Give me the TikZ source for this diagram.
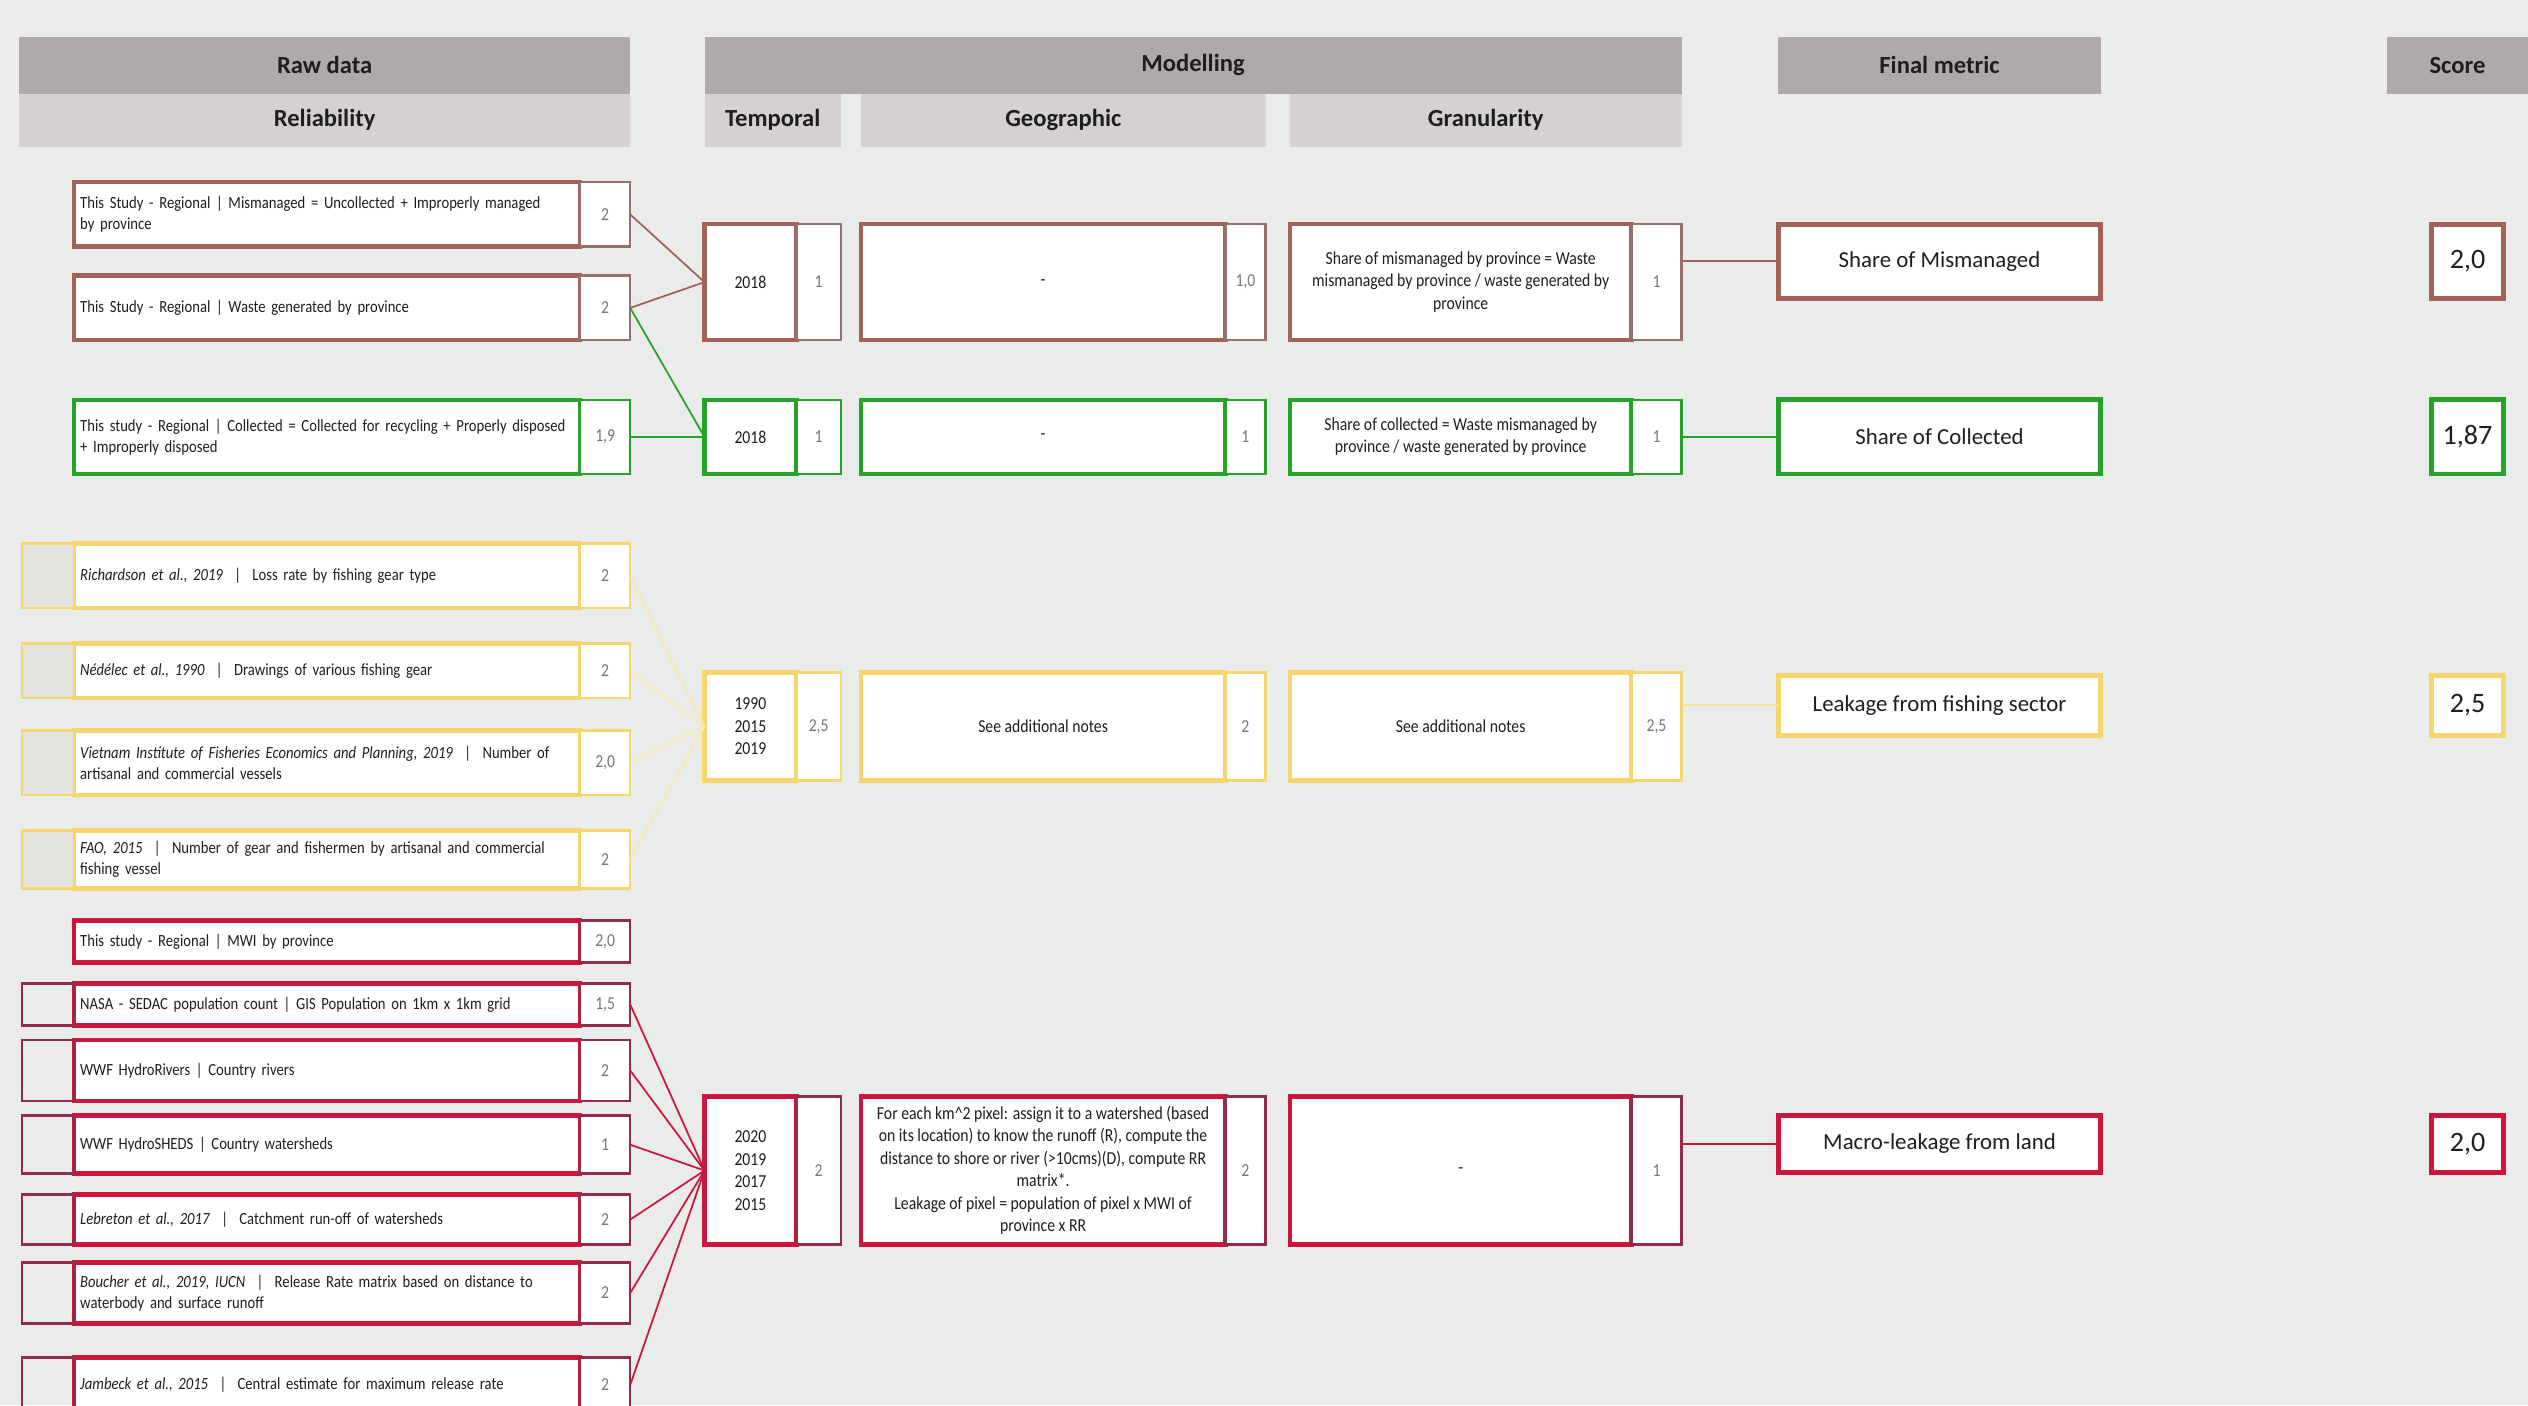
\documentclass[tikz,border=0pt]{standalone}
\usepackage{fontspec}
\setmainfont{Carlito}
\newfontfamily\condf{Carlito}[FakeStretch=0.86]
\usetikzlibrary{positioning}

\definecolor{bgc}{RGB}{233,236,235}
\definecolor{hdark}{RGB}{174,169,170}
\definecolor{hlight}{RGB}{213,209,210}
\definecolor{stubc}{RGB}{226,227,222}
\definecolor{brn}{RGB}{163,98,88}
\definecolor{brnc}{RGB}{150,112,106}
\definecolor{grn}{RGB}{38,162,42}
\definecolor{ylw}{RGB}{246,214,108}
\definecolor{crim}{RGB}{204,22,62}
\definecolor{crimc}{RGB}{146,44,74}
\definecolor{celltxt}{RGB}{118,118,118}
\definecolor{txt}{RGB}{30,30,30}

\begin{document}
\begin{tikzpicture}[
    every node/.style={outer sep=0pt},
    hdr/.style={rectangle, fill=hdark, minimum height=0.564cm, font=\fontsize{7}{8}\selectfont\bfseries, text=txt},
    subhdr/.style={rectangle, fill=hlight, minimum height=0.532cm, font=\fontsize{7}{8}\selectfont\bfseries, text=txt},
    src/.style={rectangle, draw, line width=1.3pt, fill=white, anchor=west, text width=4.94cm, inner xsep=0.6mm, inner ysep=0.3mm, align=left, font=\condf\fontsize{4.85}{6}\selectfont, text=txt},
    stub/.style={rectangle, draw, line width=0.7pt, minimum width=0.52cm, inner sep=0pt},
    cell/.style={rectangle, draw, line width=0.7pt, fill=white, minimum width=0.5cm, inner sep=0pt, font=\condf\fontsize{5.2}{6}\selectfont, text=celltxt},
    mbox/.style={rectangle, draw, line width=1.3pt, fill=white, anchor=west, align=center, inner sep=0.4mm, font=\condf\fontsize{5.2}{6.4}\selectfont, text=txt},
    metric/.style={rectangle, draw, line width=1.4pt, fill=white, anchor=west, minimum width=3.224cm, font=\fontsize{6.5}{8}\selectfont, text=txt},
    score/.style={rectangle, draw, line width=1.4pt, fill=white, minimum width=0.725cm, inner sep=0pt, font=\fontsize{8}{9}\selectfont, text=txt},
    link/.style={line width=0.5pt},
]
    % Canvas
    \useasboundingbox (0,0) rectangle (25.28,-14.05);
    \clip (0,0) rectangle (25.28,-14.05);
    \fill[bgc] (0,0) rectangle (25.28,-14.05);

    % Column headers
    \node[hdr, minimum width=6.107cm, anchor=north west] (rawhd) at (0.193,-0.371) {Raw data};
    \node[subhdr, minimum width=6.107cm, below=0pt of rawhd] (relhd) {Reliability};
    \node[hdr, minimum width=9.77cm, anchor=north west] (modhd) at (7.045,-0.371) {Modelling};
    \node[subhdr, minimum width=1.365cm, anchor=north west] (temhd) at (7.045,-0.935) {Temporal};
    \node[subhdr, minimum width=4.046cm, anchor=north west] (geohd) at (8.61,-0.935) {Geographic};
    \node[subhdr, minimum width=3.917cm, anchor=north west] (grahd) at (12.898,-0.935) {Granularity};
    \node[hdr, minimum width=3.224cm, anchor=north west] (finhd) at (17.783,-0.371) {Final metric};
    \node[hdr, minimum width=1.41cm, anchor=north west] (schd) at (23.87,-0.371) {Score};

    % Share of mismanaged
    \node[src, draw=brn, minimum height=0.645cm] (mis1) at (0.742,-2.144) {This Study - Regional | Mismanaged = Uncollected + Improperly managed\\by province};
    \node[cell, draw=brnc, minimum height=0.645cm, right=0pt of mis1] (mis1r) {2};
    \node[src, draw=brn, minimum height=0.645cm] (mis2) at (0.742,-3.079) {This Study - Regional | Waste generated by province};
    \node[cell, draw=brnc, minimum height=0.645cm, right=0pt of mis2] (mis2r) {2};

    \node[mbox, draw=brn, minimum width=0.919cm, minimum height=1.161cm] (tem1) at (7.045,-2.821) {2018};
    \node[cell, draw=brnc, minimum width=0.446cm, minimum height=1.161cm, right=0pt of tem1] (tem1r) {1};
    \node[mbox, draw=brn, minimum width=3.644cm, minimum height=1.161cm] (geo1) at (8.609,-2.821) {-};
    \node[cell, draw=brnc, minimum width=0.403cm, minimum height=1.161cm, right=0pt of geo1] (geo1r) {1,0};
    \node[mbox, draw=brn, minimum width=3.417cm, minimum height=1.161cm] (gra1) at (12.898,-2.821) {Share of mismanaged by province = Waste\\mismanaged by province / waste generated by\\province};
    \node[cell, draw=brnc, minimum height=1.161cm, right=0pt of gra1] (gra1r) {1};
    \node[metric, draw=brn, minimum height=0.742cm] (fin1) at (17.783,-2.612) {Share of Mismanaged};
    \node[score, draw=brn, minimum height=0.742cm] (sc1) at (24.675,-2.612) {2,0};

    % Share of collected
    \node[src, draw=grn, minimum height=0.742cm] (col1) at (0.742,-4.369) {This study - Regional | Collected = Collected for recycling + Properly disposed\\+ Improperly disposed};
    \node[cell, draw=grn, minimum height=0.742cm, right=0pt of col1] (col1r) {1,9};

    \node[mbox, draw=grn, minimum width=0.919cm, minimum height=0.742cm] (tem2) at (7.045,-4.369) {2018};
    \node[cell, draw=grn, minimum width=0.446cm, minimum height=0.742cm, right=0pt of tem2] (tem2r) {1};
    \node[mbox, draw=grn, minimum width=3.644cm, minimum height=0.742cm] (geo2) at (8.609,-4.369) {-};
    \node[cell, draw=grn, minimum width=0.403cm, minimum height=0.742cm, right=0pt of geo2] (geo2r) {1};
    \node[mbox, draw=grn, minimum width=3.417cm, minimum height=0.742cm] (gra2) at (12.898,-4.369) {Share of collected = Waste mismanaged by\\province / waste generated by province};
    \node[cell, draw=grn, minimum height=0.742cm, right=0pt of gra2] (gra2r) {1};
    \node[metric, draw=grn, minimum height=0.742cm] (fin2) at (17.783,-4.369) {Share of Collected};
    \node[score, draw=grn, minimum height=0.742cm] (sc2) at (24.675,-4.369) {1,87};

    % Leakage from fishing sector
    \node[src, draw=ylw, minimum height=0.645cm] (fish1) at (0.742,-5.756) {\textit{Richardson et al., 2019} ~|~ Loss rate by fishing gear type};
    \node[cell, draw=ylw, minimum height=0.645cm, right=0pt of fish1] (fish1r) {2};
    \node[stub, draw=ylw, fill=stubc, minimum height=0.645cm, left=0pt of fish1] (fish1l) {};
    \node[src, draw=ylw, minimum height=0.548cm] (fish2) at (0.742,-6.707) {\textit{Nédélec et al., 1990} ~|~ Drawings of various fishing gear};
    \node[cell, draw=ylw, minimum height=0.548cm, right=0pt of fish2] (fish2r) {2};
    \node[stub, draw=ylw, fill=stubc, minimum height=0.548cm, left=0pt of fish2] (fish2l) {};
    \node[src, draw=ylw, minimum height=0.645cm] (fish3) at (0.742,-7.626) {\textit{Vietnam Institute of Fisheries Economics and Planning, 2019} ~|~ Number of\\artisanal and commercial vessels};
    \node[cell, draw=ylw, minimum height=0.645cm, right=0pt of fish3] (fish3r) {2,0};
    \node[stub, draw=ylw, fill=stubc, minimum height=0.645cm, left=0pt of fish3] (fish3l) {};
    \node[src, draw=ylw, minimum height=0.58cm] (fish4) at (0.742,-8.593) {\textit{FAO, 2015} ~|~ Number of gear and fishermen by artisanal and commercial\\fishing vessel};
    \node[cell, draw=ylw, minimum height=0.58cm, right=0pt of fish4] (fish4r) {2};
    \node[stub, draw=ylw, fill=stubc, minimum height=0.58cm, left=0pt of fish4] (fish4l) {};

    \node[mbox, draw=ylw, minimum width=0.919cm, minimum height=1.08cm] (tem3) at (7.045,-7.263) {1990\\2015\\2019};
    \node[cell, draw=ylw, minimum width=0.446cm, minimum height=1.08cm, right=0pt of tem3] (tem3r) {2,5};
    \node[mbox, draw=ylw, minimum width=3.644cm, minimum height=1.08cm] (geo3) at (8.609,-7.263) {See additional notes};
    \node[cell, draw=ylw, minimum width=0.403cm, minimum height=1.08cm, right=0pt of geo3] (geo3r) {2};
    \node[mbox, draw=ylw, minimum width=3.417cm, minimum height=1.08cm] (gra3) at (12.898,-7.263) {See additional notes};
    \node[cell, draw=ylw, minimum height=1.08cm, right=0pt of gra3] (gra3r) {2,5};
    \node[metric, draw=ylw, minimum height=0.597cm] (fin3) at (17.783,-7.053) {Leakage from fishing sector};
    \node[score, draw=ylw, minimum height=0.597cm] (sc3) at (24.675,-7.053) {2,5};

    % Macro-leakage from land
    \node[src, draw=crim, minimum height=0.419cm] (land1) at (0.742,-9.415) {This study - Regional | MWI by province};
    \node[cell, draw=crimc, minimum height=0.419cm, right=0pt of land1] (land1r) {2,0};
    \node[src, draw=crim, minimum height=0.419cm] (land2) at (0.742,-10.044) {NASA - SEDAC population count | GIS Population on 1km x 1km grid};
    \node[cell, draw=crimc, minimum height=0.419cm, right=0pt of land2] (land2r) {1,5};
    \node[stub, draw=crimc, minimum height=0.419cm, left=0pt of land2] (land2l) {};
    \node[src, draw=crim, minimum height=0.613cm] (land3) at (0.742,-10.705) {WWF HydroRivers | Country rivers};
    \node[cell, draw=crimc, minimum height=0.613cm, right=0pt of land3] (land3r) {2};
    \node[stub, draw=crimc, minimum height=0.613cm, left=0pt of land3] (land3l) {};
    \node[src, draw=crim, minimum height=0.58cm] (land4) at (0.742,-11.447) {WWF HydroSHEDS | Country watersheds};
    \node[cell, draw=crimc, minimum height=0.58cm, right=0pt of land4] (land4r) {1};
    \node[stub, draw=crimc, minimum height=0.58cm, left=0pt of land4] (land4l) {};
    \node[src, draw=crim, minimum height=0.5cm] (land5) at (0.742,-12.196) {\textit{Lebreton et al., 2017} ~|~ Catchment run-off of watersheds};
    \node[cell, draw=crimc, minimum height=0.5cm, right=0pt of land5] (land5r) {2};
    \node[stub, draw=crimc, minimum height=0.5cm, left=0pt of land5] (land5l) {};
    \node[src, draw=crim, minimum height=0.613cm] (land6) at (0.742,-12.93) {\textit{Boucher et al., 2019, IUCN} ~|~ Release Rate matrix based on distance to\\waterbody and surface runoff};
    \node[cell, draw=crimc, minimum height=0.613cm, right=0pt of land6] (land6r) {2};
    \node[stub, draw=crimc, minimum height=0.613cm, left=0pt of land6] (land6l) {};
    \node[src, draw=crim, minimum height=0.548cm] (land7) at (0.742,-13.849) {\textit{Jambeck et al., 2015} ~|~ Central estimate for maximum release rate};
    \node[cell, draw=crimc, minimum height=0.548cm, right=0pt of land7] (land7r) {2};
    \node[stub, draw=crimc, minimum height=0.548cm, left=0pt of land7] (land7l) {};

    \node[mbox, draw=crim, minimum width=0.919cm, minimum height=1.483cm] (tem4) at (7.045,-11.705) {2020\\2019\\2017\\2015};
    \node[cell, draw=crimc, minimum width=0.446cm, minimum height=1.483cm, right=0pt of tem4] (tem4r) {2};
    \node[mbox, draw=crim, minimum width=3.644cm, minimum height=1.483cm] (geo4) at (8.609,-11.705) {For each km\textasciicircum 2 pixel: assign it to a watershed (based\\on its location) to know the runoff (R), compute the\\distance to shore or river (>10cms)(D), compute RR\\matrix*.\\Leakage of pixel = population of pixel x MWI of\\province x RR};
    \node[cell, draw=crimc, minimum width=0.403cm, minimum height=1.483cm, right=0pt of geo4] (geo4r) {2};
    \node[mbox, draw=crim, minimum width=3.417cm, minimum height=1.483cm] (gra4) at (12.898,-11.705) {-};
    \node[cell, draw=crimc, minimum height=1.483cm, right=0pt of gra4] (gra4r) {1};
    \node[metric, draw=crim, minimum height=0.564cm] (fin4) at (17.783,-11.439) {Macro-leakage from land};
    \node[score, draw=crim, minimum height=0.564cm] (sc4) at (24.675,-11.439) {2,0};

    % Connections
    \draw[link, brn] (mis1r.east) -- (tem1.west);
    \draw[link, brn] (mis2r.east) -- (tem1.west);
    \draw[link, grn] (mis2r.east) -- (tem2.west);
    \draw[link, grn] (col1r.east) -- (tem2.west);
    \draw[link, ylw!55] (fish1r.east) -- (tem3.west);
    \draw[link, ylw!55] (fish2r.east) -- (tem3.west);
    \draw[link, ylw!55] (fish3r.east) -- (tem3.west);
    \draw[link, ylw!55] (fish4r.east) -- (tem3.west);
    \draw[link, crim] (land2r.east) -- (tem4.west);
    \draw[link, crim] (land3r.east) -- (tem4.west);
    \draw[link, crim] (land4r.east) -- (tem4.west);
    \draw[link, crim] (land5r.east) -- (tem4.west);
    \draw[link, crim] (land6r.east) -- (tem4.west);
    \draw[link, crim] (land7r.east) -- (tem4.west);

    \draw[link, brn] (gra1r.east |- fin1.west) -- (fin1.west);
    \draw[link, grn] (gra2r.east |- fin2.west) -- (fin2.west);
    \draw[link, ylw!70] (gra3r.east |- fin3.west) -- (fin3.west);
    \draw[link, crim] (gra4r.east |- fin4.west) -- (fin4.west);
\end{tikzpicture}
\end{document}
